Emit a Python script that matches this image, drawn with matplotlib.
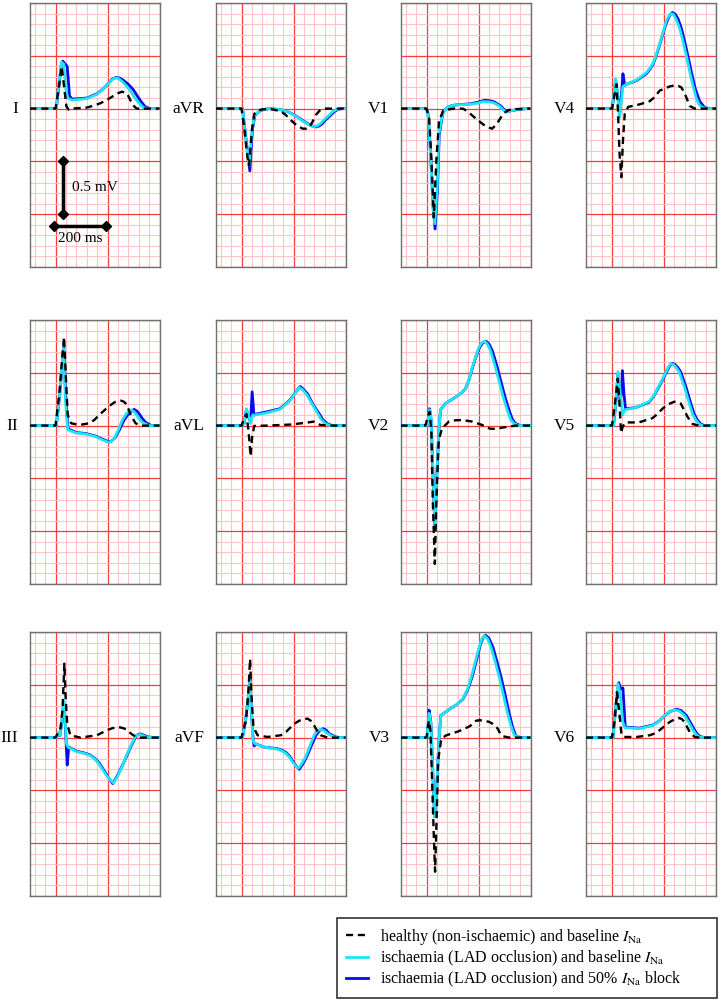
# 12-lead ECG: healthy vs LAD ischaemia vs ischaemia + 50% INa block
import matplotlib
matplotlib.use("Agg")
import matplotlib.pyplot as plt
from matplotlib.ticker import MultipleLocator
from matplotlib.lines import Line2D

plt.rcParams['font.family'] = ['Liberation Serif', 'DejaVu Serif']
plt.rcParams['mathtext.fontset'] = 'stix'

# (time ms, voltage mV)
I_healthy = [(-100, 0), (0, 0), (13, 0.2), (23, 0.40), (32, 0.23), (42, 0.02), (51, -0.01), (64, 0), (121, 0.01),
             (150, 0.03), (172, 0.05), (192, 0.075), (210, 0.10), (235, 0.14), (255, 0.16), (270, 0.15), (280, 0.12),
             (290, 0.07), (299, 0.03), (312, 0), (400, 0)]
I_isch = [(-100, 0), (3, 0), (13, 0.23), (23, 0.44), (32, 0.42), (39, 0.2), (47, 0.1), (64, 0.08), (121, 0.095),
          (159, 0.135), (180, 0.18), (197, 0.22), (215, 0.27), (229, 0.29), (242, 0.285), (255, 0.26), (271, 0.22),
          (287, 0.17), (303, 0.11), (318, 0.06), (338, 0.01), (357, 0), (400, 0)]
I_block = [(-100, 0), (3, 0), (13, 0.22), (23, 0.42), (28, 0.45), (38, 0.42), (45, 0.40), (54, 0.12), (64, 0.09),
           (121, 0.10), (159, 0.14), (180, 0.18), (197, 0.22), (218, 0.28), (233, 0.295), (246, 0.29), (260, 0.27),
           (280, 0.23), (299, 0.18), (312, 0.13), (325, 0.08), (344, 0.02), (362, 0), (400, 0)]

aVR_healthy = [(-100, 0), (0, 0), (10, -0.17), (23, -0.46), (29, -0.54), (40, -0.21), (49, -0.05), (74, -0.01),
               (106, 0), (151, -0.025), (170, -0.06), (190, -0.11), (213, -0.16), (235, -0.19), (250, -0.19),
               (260, -0.18), (272, -0.13), (286, -0.06), (300, -0.02), (318, 0), (400, 0)]
aVR_isch = [(-100, 0), (4, 0), (17, -0.30), (29, -0.54), (40, -0.21), (51, -0.06), (74, -0.016), (106, 0),
            (151, -0.01), (178, -0.03), (203, -0.063), (225, -0.1), (247, -0.136), (265, -0.16), (279, -0.17),
            (292, -0.162), (305, -0.14), (320, -0.1), (337, -0.063), (350, -0.03), (363, -0.01), (382, 0), (400, 0)]
aVR_block = [(-100, 0), (4, 0), (17, -0.28), (32, -0.59), (42, -0.2), (52, -0.06), (74, -0.016), (106, 0),
             (151, -0.01), (178, -0.03), (203, -0.06), (228, -0.1), (250, -0.135), (270, -0.163), (286, -0.174),
             (298, -0.165), (310, -0.145), (326, -0.1), (342, -0.065), (356, -0.03), (369, -0.01), (385, 0),
             (400, 0)]

V1_healthy = [(-100, 0), (0, 0), (10, -0.085), (19, -0.49), (28, -1.03), (38, -0.49), (48, -0.12), (64, -0.02),
              (102, 0), (140, 0), (160, -0.03), (178, -0.07), (198, -0.11), (217, -0.148), (235, -0.175),
              (252, -0.19), (263, -0.165), (274, -0.13), (287, -0.08), (299, -0.04), (315, -0.015), (331, -0.006),
              (400, 0)]
V1_isch = [(-100, 0), (0, 0), (6, -0.054), (15, -0.40), (25, -0.94), (32, -1.09), (41, -0.75), (48, -0.24),
           (61, -0.054), (72, -0.01), (83, 0.016), (100, 0.03), (115, 0.035), (166, 0.041), (195, 0.05),
           (217, 0.066), (237, 0.065), (255, 0.057), (270, 0.04), (280, 0.025), (296, -0.016), (312, -0.028),
           (344, -0.01), (382, 0), (400, 0)]
V1_block = [(-100, 0), (0, 0), (6, -0.05), (15, -0.38), (25, -0.92), (33, -1.14), (42, -0.78), (49, -0.25),
            (62, -0.05), (72, -0.01), (83, 0.016), (100, 0.03), (115, 0.035), (166, 0.045), (198, 0.06),
            (223, 0.079), (242, 0.075), (258, 0.066), (283, 0.03), (299, -0.01), (315, -0.025), (347, -0.01),
            (385, 0), (400, 0)]

V4_healthy = [(-100, 0), (0, 0), (10, 0.135), (17, 0.23), (23, -0.02), (29, -0.43), (36, -0.65), (42, -0.31),
              (49, -0.05), (62, 0.016), (106, 0.04), (145, 0.07), (165, 0.11), (183, 0.17), (203, 0.19),
              (222, 0.21), (241, 0.22), (255, 0.215), (267, 0.2), (277, 0.155), (286, 0.105), (299, 0.025),
              (318, 0), (400, 0)]
V4_isch = [(-100, 0), (0, 0), (6, 0.104), (14, 0.28), (23, 0.104), (29, -0.085), (36, 0.07), (42, 0.21),
           (55, 0.23), (94, 0.27), (132, 0.34), (145, 0.38), (158, 0.43), (170, 0.51), (183, 0.61), (196, 0.72),
           (209, 0.83), (220, 0.885), (228, 0.9), (237, 0.89), (247, 0.845), (260, 0.76), (273, 0.64), (286, 0.5),
           (299, 0.35), (312, 0.21), (324, 0.10), (335, 0.04), (344, 0.016), (363, 0), (400, 0)]
V4_block = [(-100, 0), (0, 0), (6, 0.1), (14, 0.27), (23, 0.1), (29, -0.06), (37, 0.15), (42, 0.33), (49, 0.22),
            (55, 0.23), (94, 0.265), (132, 0.33), (145, 0.37), (158, 0.42), (170, 0.5), (183, 0.60), (196, 0.71),
            (209, 0.81), (222, 0.885), (232, 0.91), (243, 0.895), (254, 0.85), (267, 0.76), (279, 0.64),
            (292, 0.5), (305, 0.35), (320, 0.19), (337, 0.07), (356, 0.01), (376, 0), (400, 0)]

II_healthy = [(-100, 0), (0, 0), (15, 0.305), (28, 0.71), (33, 0.84), (41, 0.40), (47, 0.1), (60, 0.022),
              (92, 0.006), (130, 0.022), (150, 0.055), (168, 0.10), (188, 0.145), (206, 0.185), (230, 0.225),
              (251, 0.236), (262, 0.228), (270, 0.21), (280, 0.16), (289, 0.10), (308, 0.022), (327, 0), (400, 0)]
II_isch = [(-100, 0), (3, 0), (15, 0.27), (31, 0.73), (38, 0.24), (47, -0.04), (79, -0.07), (117, -0.08),
           (155, -0.105), (181, -0.135), (195, -0.15), (207, -0.16), (216, -0.145), (226, -0.12), (242, -0.04),
           (257, 0.053), (273, 0.115), (289, 0.148), (298, 0.14), (308, 0.116), (320, 0.07), (334, 0.03), (359, 0),
           (400, 0)]
II_block = [(-100, 0), (3, 0), (15, 0.26), (32, 0.75), (39, 0.3), (48, -0.03), (79, -0.065), (117, -0.075),
            (155, -0.10), (183, -0.13), (197, -0.145), (209, -0.155), (218, -0.14), (229, -0.115), (246, -0.04),
            (263, 0.05), (283, 0.12), (302, 0.154), (312, 0.14), (321, 0.115), (333, 0.07), (347, 0.03), (369, 0),
            (400, 0)]

aVL_healthy = [(-100, 0), (0, 0), (13, 0.085), (19, 0.11), (26, -0.03), (30, -0.135), (35, -0.29), (41, -0.104),
               (49, -0.003), (97, 0), (187, 0.01), (252, 0.028), (277, 0.038), (290, 0.025), (303, 0.006),
               (355, 0), (400, 0)]
aVL_isch = [(-100, 0), (0, 0), (10, 0.02), (19, 0.16), (30, 0.07), (35, 0.02), (43, 0.1), (52, 0.1), (97, 0.12),
            (148, 0.154), (170, 0.2), (187, 0.24), (205, 0.3), (215, 0.34), (223, 0.36), (235, 0.34), (252, 0.29),
            (270, 0.21), (290, 0.13), (306, 0.06), (322, 0.02), (342, 0), (400, 0)]
aVL_block = [(-100, 0), (0, 0), (10, 0.02), (19, 0.15), (30, 0.06), (35, 0.04), (41, 0.32), (48, 0.1),
             (58, 0.11), (97, 0.13), (148, 0.16), (170, 0.205), (187, 0.245), (207, 0.31), (218, 0.35), (226, 0.37),
             (238, 0.345), (254, 0.3), (275, 0.2), (297, 0.12), (313, 0.055), (329, 0.02), (348, 0), (400, 0)]

V2_healthy = [(-100, 0), (-4, 0), (5, 0.085), (12, 0.13), (19, -0.07), (24, -0.7), (32, -1.31), (38, -0.70),
              (47, -0.135), (60, -0.025), (86, 0.038), (110, 0.05), (137, 0.053), (176, 0.038), (214, 0.006),
              (230, -0.015), (246, -0.03), (268, -0.03), (291, -0.02), (342, 0), (400, 0)]
V2_isch = [(-100, 0), (3, 0), (12, 0.15), (18, 0.05), (24, -0.39), (32, -0.95), (38, -0.57), (47, -0.07),
           (54, 0.15), (73, 0.21), (112, 0.27), (135, 0.31), (150, 0.35), (163, 0.43), (176, 0.55), (189, 0.65),
           (201, 0.74), (213, 0.785), (224, 0.80), (235, 0.77), (246, 0.71), (262, 0.58), (278, 0.43), (294, 0.28),
           (310, 0.15), (323, 0.06), (336, 0.02), (355, 0), (400, 0)]
V2_block = [(-100, 0), (3, 0), (12, 0.16), (18, 0.05), (24, -0.4), (32, -0.96), (38, -0.57), (47, -0.07),
            (54, 0.15), (73, 0.21), (112, 0.27), (135, 0.31), (150, 0.35), (163, 0.43), (176, 0.54), (190, 0.65),
            (204, 0.74), (217, 0.785), (229, 0.80), (241, 0.77), (253, 0.71), (269, 0.58), (285, 0.43),
            (301, 0.28), (317, 0.15), (330, 0.06), (342, 0.02), (362, 0), (400, 0)]

V5_healthy = [(-100, 0), (0, 0), (13, 0.24), (22, 0.445), (28, 0.24), (35, -0.07), (41, -0.01), (52, 0.03),
              (103, 0.03), (155, 0.07), (175, 0.11), (194, 0.16), (215, 0.2), (239, 0.226), (252, 0.225),
              (264, 0.21), (277, 0.15), (290, 0.085), (310, 0.015), (335, 0), (400, 0)]
V5_isch = [(-100, 0), (6, 0), (15, 0.24), (23, 0.51), (32, 0.3), (41, 0.1), (49, 0.15), (90, 0.17),
           (142, 0.226), (160, 0.28), (181, 0.38), (204, 0.49), (218, 0.56), (226, 0.586), (236, 0.58),
           (247, 0.55), (258, 0.51), (278, 0.37), (297, 0.21), (310, 0.11), (323, 0.05), (336, 0.015), (348, 0),
           (400, 0)]
V5_block = [(-100, 0), (6, 0), (15, 0.22), (23, 0.48), (31, 0.25), (36, 0.3), (40, 0.52), (46, 0.3), (52, 0.16),
            (90, 0.17), (142, 0.22), (160, 0.275), (181, 0.37), (206, 0.49), (222, 0.565), (232, 0.59),
            (242, 0.58), (253, 0.55), (264, 0.51), (284, 0.37), (303, 0.21), (316, 0.11), (329, 0.05),
            (342, 0.015), (355, 0), (400, 0)]

III_healthy = [(-100, 0), (0, 0), (9, 0.04), (19, 0.085), (27, 0.26), (34, 0.70), (39, 0.38), (45, 0.13),
               (57, 0.022), (96, 0), (159, 0.022), (178, 0.045), (197, 0.07), (220, 0.09), (242, 0.10),
               (260, 0.09), (274, 0.075), (287, 0.045), (299, 0.022), (325, 0), (400, 0)]
III_isch = [(-100, 0), (4, 0), (13, 0.053), (17, 0.02), (23, 0.13), (32, 0.35), (38, 0.13), (42, -0.057),
            (48, -0.09), (83, -0.135), (110, -0.15), (134, -0.17), (150, -0.2), (166, -0.245), (191, -0.34),
            (208, -0.395), (223, -0.43), (238, -0.37), (255, -0.28), (271, -0.18), (287, -0.09), (306, 0.006),
            (316, 0.025), (325, 0.03), (350, 0.006), (376, 0), (400, 0)]
III_block = [(-100, 0), (4, 0), (13, 0.05), (17, 0.02), (23, 0.12), (32, 0.34), (38, 0.1), (45, -0.26),
             (51, -0.09), (83, -0.13), (110, -0.145), (134, -0.165), (150, -0.195), (168, -0.24), (194, -0.34),
             (208, -0.395), (220, -0.435), (236, -0.37), (252, -0.29), (271, -0.19), (290, -0.085), (309, 0.01),
             (318, 0.03), (327, 0.035), (357, 0.006), (382, 0), (400, 0)]

aVF_healthy = [(-100, 0), (0, 0), (17, 0.16), (26, 0.41), (33, 0.745), (38, 0.41), (46, 0.1), (62, 0.022),
               (100, 0.006), (151, 0.022), (172, 0.055), (190, 0.1), (206, 0.135), (222, 0.16), (240, 0.175),
               (254, 0.18), (266, 0.16), (279, 0.116), (292, 0.06), (305, 0.022), (331, 0), (400, 0)]
aVF_isch = [(-100, 0), (4, 0), (17, 0.195), (26, 0.38), (33, 0.54), (38, 0.26), (44, -0.025), (51, -0.057),
            (87, -0.09), (138, -0.11), (155, -0.125), (171, -0.15), (184, -0.185), (196, -0.23), (208, -0.265),
            (219, -0.29), (232, -0.245), (247, -0.18), (263, -0.08), (279, 0.02), (292, 0.065), (305, 0.08),
            (318, 0.065), (331, 0.038), (356, 0.006), (376, 0), (400, 0)]
aVF_block = [(-100, 0), (4, 0), (17, 0.19), (26, 0.38), (33, 0.555), (38, 0.25), (45, -0.02), (49, -0.08),
             (55, -0.06), (87, -0.09), (138, -0.105), (157, -0.12), (173, -0.145), (186, -0.18), (199, -0.23),
             (211, -0.27), (222, -0.30), (236, -0.25), (251, -0.18), (268, -0.08), (286, 0.02), (301, 0.07),
             (315, 0.085), (326, 0.07), (337, 0.038), (363, 0.006), (382, 0), (400, 0)]

V3_healthy = [(-100, 0), (0, 0), (4, 0.07), (9, 0.16), (15, 0.07), (23, -0.53), (29, -1.0), (33, -1.27),
              (38, -0.84), (45, -0.21), (57, -0.01), (76, 0.022), (100, 0.04), (127, 0.063), (166, 0.107),
              (180, 0.135), (191, 0.16), (205, 0.165), (223, 0.157), (240, 0.15), (255, 0.13), (265, 0.11),
              (274, 0.085), (283, 0.04), (293, 0.013), (319, 0), (400, 0)]
V3_isch = [(-100, 0), (3, 0), (10, 0.23), (17, 0.13), (23, -0.25), (31, -0.75), (38, -0.56), (47, -0.06),
           (55, 0.21), (89, 0.27), (115, 0.31), (140, 0.37), (156, 0.45), (172, 0.57), (188, 0.72), (204, 0.87),
           (214, 0.94), (223, 0.965), (235, 0.935), (248, 0.86), (264, 0.72), (280, 0.57), (296, 0.4),
           (312, 0.23), (325, 0.11), (338, 0.022), (357, 0), (400, 0)]
V3_block = [(-100, 0), (3, 0), (10, 0.26), (17, 0.14), (23, -0.25), (31, -0.75), (38, -0.56), (47, -0.06),
            (55, 0.21), (89, 0.27), (115, 0.31), (140, 0.365), (158, 0.45), (175, 0.57), (191, 0.72), (206, 0.87),
            (217, 0.945), (227, 0.97), (240, 0.94), (255, 0.86), (271, 0.72), (287, 0.57), (303, 0.4),
            (318, 0.23), (331, 0.1), (344, 0.013), (363, 0), (400, 0)]

V6_healthy = [(-100, 0), (0, 0), (10, 0.16), (19, 0.43), (27, 0.26), (36, 0.038), (45, 0.006), (94, 0.006),
              (145, 0.022), (165, 0.04), (183, 0.07), (203, 0.11), (222, 0.148), (240, 0.172), (258, 0.185),
              (269, 0.175), (279, 0.148), (289, 0.1), (299, 0.053), (318, 0.006), (337, 0), (400, 0)]
V6_isch = [(-100, 0), (4, 0), (13, 0.26), (23, 0.51), (32, 0.41), (40, 0.16), (49, 0.094), (106, 0.085),
           (158, 0.116), (178, 0.15), (196, 0.195), (218, 0.24), (241, 0.264), (260, 0.25), (279, 0.21),
           (296, 0.14), (312, 0.07), (325, 0.025), (337, 0.006), (356, 0), (400, 0)]
V6_block = [(-100, 0), (4, 0), (13, 0.25), (26, 0.52), (33, 0.46), (42, 0.47), (51, 0.1), (106, 0.09),
            (158, 0.12), (180, 0.155), (199, 0.2), (222, 0.245), (247, 0.27), (266, 0.255), (286, 0.21),
            (302, 0.14), (318, 0.07), (331, 0.025), (344, 0.006), (363, 0), (400, 0)]

# layout order: rows then columns
lead_names = ['I', 'aVR', 'V1', 'V4',
              'II', 'aVL', 'V2', 'V5',
              'III', 'aVF', 'V3', 'V6']
leads = {
    'I': (I_healthy, I_isch, I_block), 'aVR': (aVR_healthy, aVR_isch, aVR_block),
    'V1': (V1_healthy, V1_isch, V1_block), 'V4': (V4_healthy, V4_isch, V4_block),
    'II': (II_healthy, II_isch, II_block), 'aVL': (aVL_healthy, aVL_isch, aVL_block),
    'V2': (V2_healthy, V2_isch, V2_block), 'V5': (V5_healthy, V5_isch, V5_block),
    'III': (III_healthy, III_isch, III_block), 'aVF': (aVF_healthy, aVF_isch, aVF_block),
    'V3': (V3_healthy, V3_isch, V3_block), 'V6': (V6_healthy, V6_isch, V6_block),
}

legend_labels = [r'healthy (non-ischaemic) and baseline $I_{\mathrm{Na}}$',
                 r'ischaemia (LAD occlusion) and baseline $I_{\mathrm{Na}}$',
                 r'ischaemia (LAD occlusion) and 50% $I_{\mathrm{Na}}$ block']

CYAN = '#1fe4f2'
BLUE = '#0a0ae8'
MAJOR = '#ff3a3a'
MINOR = '#ffc4c4'

W, H = 720, 1001
fig = plt.figure(figsize=(W / 100, H / 100), dpi=100)

col_left = [29.5, 215.5, 400.5, 586]
row_top = [3, 320, 632]
pw, ph = 130, 264

for i, name in enumerate(lead_names):
    r, c = divmod(i, 4)
    ax = fig.add_axes([col_left[c] / W, 1 - (row_top[r] + ph) / H, pw / W, ph / H])
    ax.set_xlim(-100, 400)
    ax.set_ylim(-1.5, 1.0)
    ax.xaxis.set_major_locator(MultipleLocator(200))
    ax.xaxis.set_minor_locator(MultipleLocator(40))
    ax.yaxis.set_major_locator(MultipleLocator(0.5))
    ax.yaxis.set_minor_locator(MultipleLocator(0.1))
    ax.grid(which='minor', color=MINOR, lw=0.8, zorder=0)
    ax.grid(which='major', color=MAJOR, lw=0.9, zorder=0)
    ax.set_axisbelow(True)
    ax.tick_params(which='both', length=0, labelbottom=False, labelleft=False)
    for s in ax.spines.values():
        s.set_color('#707070')
        s.set_linewidth(1.0)

    healthy, isch, block = leads[name]
    ax.plot(*zip(*block), color=BLUE, lw=2.0, solid_joinstyle='round', zorder=3)
    ax.plot(*zip(*isch), color=CYAN, lw=2.0, solid_joinstyle='round', zorder=4)
    ax.plot(*zip(*healthy), color='black', lw=1.7, ls=(0, (3, 2)), zorder=5)

    ax.text(-0.085, 0, name, transform=ax.get_yaxis_transform(), ha='right', va='center', fontsize=12.5)

    if name == 'I':
        # scale bars
        ax.plot([30, 30], [-0.5, -1.0], color='black', lw=2.5, marker='D', ms=5.5, zorder=6)
        ax.plot([-5, 195], [-1.11, -1.11], color='black', lw=2.5, marker='D', ms=5.5, zorder=6)
        ax.text(63, -0.75, '0.5 mV', ha='left', va='center', fontsize=11)
        ax.text(95, -1.23, '200 ms', ha='center', va='center', fontsize=11)

handles = [Line2D([], [], color='black', lw=1.7, ls=(0, (3, 2))),
           Line2D([], [], color=CYAN, lw=2.0),
           Line2D([], [], color=BLUE, lw=2.0)]
leg = fig.legend(handles, legend_labels, loc='lower left', mode='expand',
                 bbox_to_anchor=(337 / W, 1 - 998 / H, 380 / W, 78 / H), borderaxespad=0,
                 fontsize=11.5, frameon=True, fancybox=False, edgecolor='black',
                 handlelength=1.4, handletextpad=0.75, labelspacing=0.12, borderpad=0.55)
leg.get_frame().set_linewidth(1.2)

fig.savefig('out.png', dpi=100)
